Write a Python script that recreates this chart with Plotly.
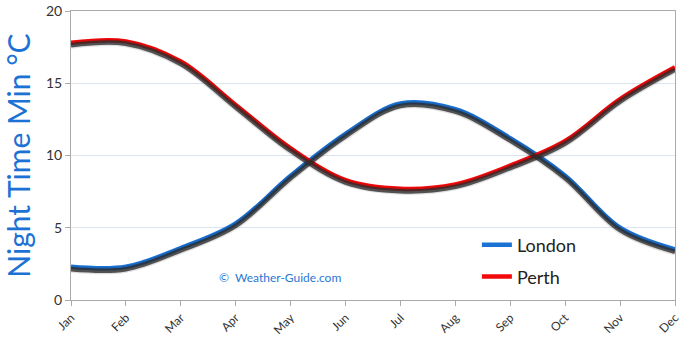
import plotly.graph_objects as go

months = ["Jan", "Feb", "Mar", "Apr", "May", "Jun", "Jul", "Aug", "Sep", "Oct", "Nov", "Dec"]
london = [2.3, 2.3, 3.6, 5.3, 8.6, 11.5, 13.6, 13.2, 11.2, 8.6, 5.0, 3.5]
perth = [17.8, 17.9, 16.5, 13.5, 10.5, 8.3, 7.7, 8.0, 9.3, 11.0, 13.9, 16.1]
y_ticks = [0, 5, 10, 15, 20]

BLUE = "#1c72d4"
RED = "#f20a0a"
FONT = "Lato"

fig = go.Figure()

# drop shadows (drawn on an overlaid axis shifted slightly downward)
for vals in (london, perth):
    fig.add_trace(go.Scatter(x=months, y=vals, mode="lines", yaxis="y2",
                             line=dict(color="rgba(0,0,0,0.12)", width=7, shape="spline", smoothing=1.0),
                             showlegend=False, hoverinfo="skip"))
    fig.add_trace(go.Scatter(x=months, y=vals, mode="lines", yaxis="y2",
                             line=dict(color="rgba(45,45,45,0.8)", width=4.5, shape="spline", smoothing=1.0),
                             showlegend=False, hoverinfo="skip"))

fig.add_trace(go.Scatter(x=months, y=london, mode="lines", name="London", legend="legend",
                         line=dict(color=BLUE, width=4.5, shape="spline", smoothing=1.0)))
fig.add_trace(go.Scatter(x=months, y=perth, mode="lines", name="Perth", legend="legend2",
                         line=dict(color=RED, width=4.5, shape="spline", smoothing=1.0)))

fig.add_annotation(text="©  Weather-Guide.com", xref="paper", yref="paper",
                   x=0.346, y=0.076, yshift=-9, showarrow=False,
                   font=dict(family=FONT, size=12, color="#2a78d2"))

legend_common = dict(xanchor="left", yanchor="middle", bgcolor="rgba(0,0,0,0)",
                     font=dict(family=FONT, size=18, color="#222"), itemwidth=30)

fig.update_layout(
    width=690, height=340,
    margin=dict(l=71, r=15, t=11, b=40),
    paper_bgcolor="white", plot_bgcolor="white",
    font=dict(family=FONT, color="#333"),
    showlegend=True,
    legend=dict(x=0.672, y=0.19, **legend_common),
    legend2=dict(x=0.672, y=0.08, **legend_common),
    xaxis=dict(type="category", range=[0, 11], tickangle=-45, automargin=False,
               showline=True, linecolor="#aaaaaa", linewidth=1, mirror=True,
               ticks="outside", ticklen=5, tickcolor="#aaaaaa",
               showgrid=False, tickfont=dict(family=FONT, size=12, color="#333")),
    yaxis=dict(range=[0, 20], tickvals=y_ticks, showline=True, linecolor="#aaaaaa",
               linewidth=1, mirror=True, ticks="outside", ticklen=5, tickcolor="#aaaaaa",
               gridcolor="#dbe3ec", gridwidth=1, zeroline=False, automargin=False,
               tickfont=dict(family=FONT, size=14, color="#333"),
               title=dict(text="Night Time Min °C", font=dict(family=FONT, size=30, color=BLUE), standoff=6)),
    yaxis2=dict(range=[0.17, 20.17], overlaying="y", visible=False),
)

fig.write_html("out.html")
